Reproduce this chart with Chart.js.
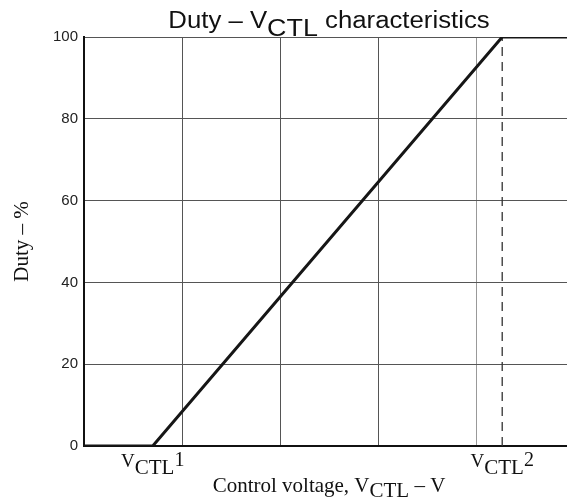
<!DOCTYPE html>
<html>
<head>
<meta charset="utf-8">
<script src="https://cdn.jsdelivr.net/npm/chart.js@4.4.1/dist/chart.umd.min.js"></script>
<style>
  body { margin: 0; background: #fff; }
  #wrap { width: 567px; height: 499px; }
</style>
</head>
<body>
<div id="wrap"><canvas id="duty" width="567" height="499"></canvas></div>
<script>
// control voltage axis (grid units) and duty %
const vctl = [0, 0.70, 4.26, 4.92];
const duty = [0, 0, 100, 100];
const vctlMarks = [0.70, 4.26];
const vctlMarkNames = ['1', '2'];
const dashX = [4.26, 4.26];
const dashY = [0, 100];
const xMax = 4.92;
const yTickStep = 20;

const SANS = '"Liberation Sans", Arial, sans-serif';
const SERIF = '"Liberation Serif", "Times New Roman", serif';

// draw a row of text pieces (for subscripts), centred on cx, optional x stretch
function drawRuns(ctx, runs, cx, base, sx) {
  sx = sx || 1;
  let w = 0;
  runs.forEach(r => { ctx.font = r.font; w += ctx.measureText(r.t).width; });
  ctx.save();
  ctx.translate(cx, base);
  ctx.scale(sx, 1);
  let x = -w / 2;
  runs.forEach(r => {
    ctx.font = r.font;
    ctx.fillText(r.t, x, r.dy || 0);
    x += ctx.measureText(r.t).width;
  });
  ctx.restore();
}

const textPlugin = {
  id: 'texts',
  afterDraw(chart) {
    const ctx = chart.ctx;
    const xs = chart.scales.x;
    const area = chart.chartArea;
    ctx.save();
    ctx.fillStyle = '#111';
    ctx.textAlign = 'left';
    ctx.textBaseline = 'alphabetic';

    // title
    drawRuns(ctx, [
      { t: 'Duty \u2013 V', font: '23px ' + SANS },
      { t: 'CTL', font: '24px ' + SANS, dy: 8 },
      { t: ' characteristics', font: '23px ' + SANS }
    ], 329, 28, 1.12);

    // VCTL1 / VCTL2 marks under the axis
    vctlMarks.forEach((v, i) => {
      drawRuns(ctx, [
        { t: 'V', font: '19px ' + SERIF },
        { t: 'CTL', font: '21px ' + SERIF, dy: 7 },
        { t: vctlMarkNames[i], font: '20px ' + SERIF, dy: -1 }
      ], xs.getPixelForValue(v), area.bottom + 21);
    });

    // x title
    drawRuns(ctx, [
      { t: 'Control voltage, V', font: '21px ' + SERIF },
      { t: 'CTL', font: '21px ' + SERIF, dy: 5 },
      { t: ' \u2013 V', font: '21px ' + SERIF }
    ], 329, area.bottom + 46);

    // y title
    ctx.translate(22, (area.top + area.bottom) / 2);
    ctx.rotate(-Math.PI / 2);
    ctx.textAlign = 'center';
    ctx.textBaseline = 'middle';
    ctx.font = '21px ' + SERIF;
    ctx.fillText('Duty \u2013 %', 0, 0);
    ctx.restore();
  }
};

new Chart(document.getElementById('duty'), {
  type: 'line',
  data: {
    datasets: [
      {
        data: vctl.map((x, i) => ({ x: x, y: duty[i] })),
        borderColor: '#161616',
        borderWidth: 3,
        pointRadius: 0,
        tension: 0
      },
      {
        data: dashX.map((x, i) => ({ x: x, y: dashY[i] })),
        borderColor: '#333',
        borderWidth: 1.3,
        borderDash: [9, 6],
        pointRadius: 0
      }
    ]
  },
  options: {
    responsive: false,
    animation: false,
    devicePixelRatio: 1,
    layout: { padding: { top: 37, right: 0, left: 0, bottom: 0 } },
    plugins: { legend: { display: false }, tooltip: { enabled: false } },
    scales: {
      x: {
        type: 'linear',
        min: 0,
        max: xMax,
        ticks: { stepSize: 1, display: false, includeBounds: false },
        grid: {
          drawTicks: false,
          lineWidth: 1,
          color: c => (c.tick && c.tick.value === 4) ? '#999' : '#555'
        },
        border: { color: '#111', width: 2 },
        afterFit: s => { s.height = 53; }
      },
      y: {
        min: 0,
        max: 100,
        ticks: {
          stepSize: yTickStep,
          padding: 6,
          color: '#222',
          font: { family: SANS, size: 15 }
        },
        grid: { drawTicks: false, color: '#555', lineWidth: 1 },
        border: { color: '#111', width: 2 },
        afterFit: s => { s.width = 84; }
      }
    }
  },
  plugins: [textPlugin]
});
</script>
</body>
</html>
